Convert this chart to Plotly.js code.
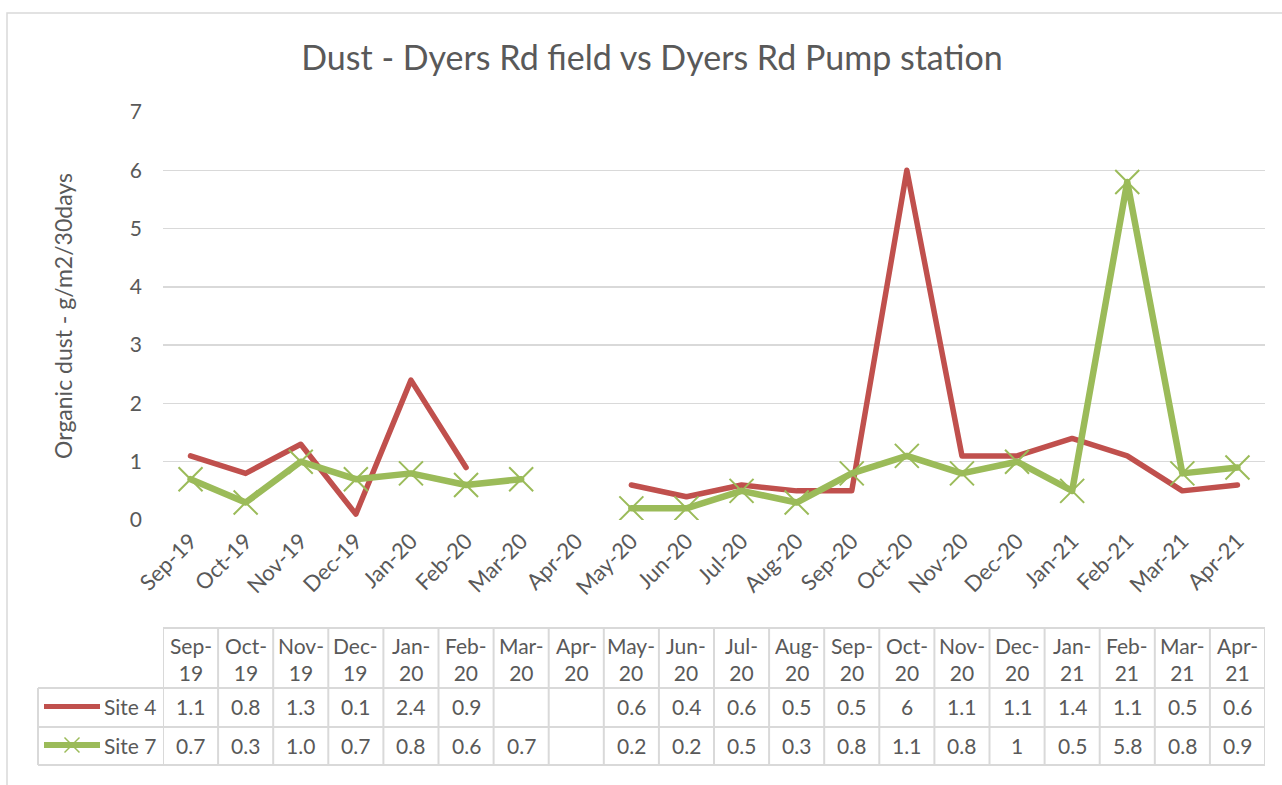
<!DOCTYPE html>
<html><head><meta charset="utf-8">
<script src="https://cdn.plot.ly/plotly-3.0.1.min.js"></script>
<style>
html,body{margin:0;padding:0;background:#fff;}
.js-line{stroke-linejoin:round;stroke-linecap:round;}
</style>
</head><body>
<div id="chart" style="width:1282px;height:785px"></div>
<script>
// ---- data ----
const months = ['Sep-19','Oct-19','Nov-19','Dec-19','Jan-20','Feb-20','Mar-20','Apr-20','May-20','Jun-20','Jul-20','Aug-20','Sep-20','Oct-20','Nov-20','Dec-20','Jan-21','Feb-21','Mar-21','Apr-21'];
const site4Text = ['1.1','0.8','1.3','0.1','2.4','0.9','','','0.6','0.4','0.6','0.5','0.5','6','1.1','1.1','1.4','1.1','0.5','0.6'];
const site7Text = ['0.7','0.3','1.0','0.7','0.8','0.6','0.7','','0.2','0.2','0.5','0.3','0.8','1.1','0.8','1','0.5','5.8','0.8','0.9'];
const seriesNames = ['Site 4','Site 7'];
const yTicks = [0,1,2,3,4,5,6,7];

const toNum = a => a.map(s => s === '' ? null : Number(s));
const site4 = toNum(site4Text);
const site7 = toNum(site7Text);

// ---- geometry (pixels) ----
const W = 1282, H = 785, L = 163, R = 1265, T = 112, B = 520;
const px = x => (x - L) / (R - L);      // pixel x -> paper
const py = y => (B - y) / (B - T);      // pixel y -> paper

const RED = '#C0504D', GREEN = '#9BBB59', GRID = '#D9D9D9', TXT = '#595959';
const FONT = 'Lato, "Open Sans", sans-serif';
const FS = 21;

const traces = [
  {x: months, y: site4, name: seriesNames[0], type: 'scatter', mode: 'lines',
   line: {color: RED, width: 5.5}, connectgaps: false, hoverinfo: 'skip'},
  {x: months, y: site7, name: seriesNames[1], type: 'scatter', mode: 'lines+markers',
   line: {color: GREEN, width: 6.5}, connectgaps: false, hoverinfo: 'skip',
   marker: {symbol: 'x-thin', size: 24, color: GREEN, line: {color: GREEN, width: 2}}}
];

// ---- table (data table under the axis) ----
const rowTop = 628, rowHead = 688, row1 = 727, row2 = 765, labL = 38;
const shapes = [];
const hline = (x0, x1, y, xref) => shapes.push({type: 'line', xref: xref, yref: 'paper',
  x0: x0, x1: x1, y0: py(y), y1: py(y), line: {color: GRID, width: 2}});
const n = months.length;
hline(-0.5, n - 0.5, rowTop, 'x');
[rowHead, row1, row2].forEach(y => { hline(-0.5, n - 0.5, y, 'x'); hline(px(labL), 0, y, 'paper'); });
for (let i = 0; i <= n; i++) {
  shapes.push({type: 'line', xref: 'x', yref: 'paper', x0: i - 0.5, x1: i - 0.5,
    y0: py(rowTop), y1: py(row2), line: {color: GRID, width: 2}});
}
shapes.push({type: 'line', xref: 'paper', yref: 'paper', x0: px(labL), x1: px(labL),
  y0: py(rowHead), y1: py(row2), line: {color: GRID, width: 2}});

// legend keys in the table
const keyY1 = 706.5, keyY2 = 745;
const kx0 = 44, kx1 = 100, kc = (kx0 + kx1) / 2;
shapes.push({type: 'line', xref: 'paper', yref: 'paper', x0: px(kx0), x1: px(kx1), y0: py(keyY1), y1: py(keyY1),
  line: {color: RED, width: 5}});
shapes.push({type: 'line', xref: 'paper', yref: 'paper', x0: px(kx0), x1: px(kx1), y0: py(keyY2), y1: py(keyY2),
  line: {color: GREEN, width: 6}});
const mk = 7.5;
shapes.push({type: 'line', xref: 'paper', yref: 'paper', x0: px(kc - mk), x1: px(kc + mk), y0: py(keyY2 - mk), y1: py(keyY2 + mk),
  line: {color: GREEN, width: 1.5}});
shapes.push({type: 'line', xref: 'paper', yref: 'paper', x0: px(kc - mk), x1: px(kc + mk), y0: py(keyY2 + mk), y1: py(keyY2 - mk),
  line: {color: GREEN, width: 1.5}});

// outer chart border
shapes.push({type: 'rect', xref: 'paper', yref: 'paper', x0: px(7), x1: px(1300), y0: py(13), y1: py(800),
  line: {color: GRID, width: 1.5}, fillcolor: 'rgba(0,0,0,0)'});

const annotations = [];
const tf = {family: FONT, size: FS, color: TXT};
months.forEach((m, i) => {
  const parts = m.split('-');
  annotations.push({xref: 'x', yref: 'paper', x: m, y: py(659), text: parts[0] + '-<br>' + parts[1],
    showarrow: false, font: tf, xanchor: 'center', yanchor: 'middle', align: 'center'});
  if (site4Text[i] !== '') annotations.push({xref: 'x', yref: 'paper', x: m, y: py(keyY1), text: site4Text[i],
    showarrow: false, font: tf, xanchor: 'center', yanchor: 'middle'});
  if (site7Text[i] !== '') annotations.push({xref: 'x', yref: 'paper', x: m, y: py(keyY2), text: site7Text[i],
    showarrow: false, font: tf, xanchor: 'center', yanchor: 'middle'});
});
annotations.push({xref: 'paper', yref: 'paper', x: px(102), y: py(keyY1), text: seriesNames[0], showarrow: false,
  font: tf, xanchor: 'left', yanchor: 'middle'});
annotations.push({xref: 'paper', yref: 'paper', x: px(102), y: py(keyY2), text: seriesNames[1], showarrow: false,
  font: tf, xanchor: 'left', yanchor: 'middle'});

const layout = {
  width: W, height: H,
  margin: {l: L, r: W - R, t: T, b: H - B, pad: 0},
  paper_bgcolor: '#fff', plot_bgcolor: '#fff',
  showlegend: false,
  font: {family: FONT, color: TXT, size: FS},
  title: {text: 'Dust - Dyers Rd field vs Dyers Rd Pump station', xref: 'container', x: 652 / W, xanchor: 'center',
    yref: 'container', y: 1 - 58 / H, yanchor: 'middle', font: {family: FONT, size: 34, color: TXT}},
  xaxis: {type: 'category', categoryorder: 'array', categoryarray: months, range: [-0.5, n - 0.5],
    tickangle: -45, showgrid: false, zeroline: false, showline: false, ticks: '', ticklabelstandoff: 3,
    tickfont: {family: FONT, size: 22, color: TXT}, fixedrange: true},
  yaxis: {range: [0, 7], tickvals: yTicks, showgrid: true, gridcolor: GRID, gridwidth: 1.5, zeroline: false,
    showline: false, ticks: '', ticklabelstandoff: 20, tickfont: {family: FONT, size: FS, color: TXT},
    title: {text: 'Organic dust - g/m2/30days', font: {family: FONT, size: 23, color: TXT}, standoff: 50},
    fixedrange: true},
  shapes: shapes,
  annotations: annotations
};

Plotly.newPlot('chart', traces, layout, {displayModeBar: false, staticPlot: true});
</script>
</body></html>
